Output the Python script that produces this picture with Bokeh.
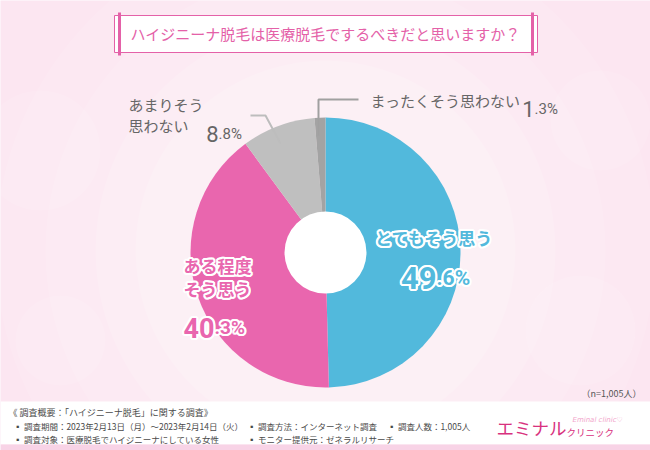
import math
from bokeh.plotting import figure
from bokeh.models import Range1d
from bokeh.core.properties import value
from bokeh.embed import file_html
from bokeh.resources import INLINE

# ---------------- data ----------------
title_text = "ハイジニーナ脱毛は医療脱毛でするべきだと思いますか？"
categories = ["とてもそう思う", "ある程度そう思う", "あまりそう思わない", "まったくそう思わない"]
label_lines = [["とてもそう思う"], ["ある程度", "そう思う"], ["あまりそう", "思わない"], ["まったくそう思わない"]]
values = [49.6, 40.3, 8.8, 1.3]
sample_note = "（n=1,005人）"
footer_head = "《 調査概要：「ハイジニーナ脱毛」に関する調査》"
footer_items = [
    "調査期間：2023年2月13日（月）～2023年2月14日（火）",
    "調査方法：インターネット調査",
    "調査人数：1,005人",
    "調査対象：医療脱毛でハイジニーナにしている女性",
    "モニター提供元：ゼネラルリサーチ",
]
brand_main = "エミナル"
brand_sub = "クリニック"
brand_en = "Eminal clinic♡"

# ---------------- styles ----------------
slice_colors = ["#52B9DC", "#E966AE", "#BFBFBF", "#A3A3A3"]
PINK = "#E461A8"
GRAY_TXT = "#666666"
JP = "Noto Sans CJK JP"

W, H = 650, 450
p = figure(width=W, height=H, output_backend="svg", toolbar_location=None,
           x_range=Range1d(0, W), y_range=Range1d(0, H),
           min_border=0, background_fill_color="#FCE6F1",
           border_fill_color="#FCE6F1", outline_line_color=None)
p.axis.visible = False
p.grid.visible = False


def Y(y):
    return H - y


# soft glow in background
for r, a in [(330, 0.10), (280, 0.12), (230, 0.14), (190, 0.16)]:
    p.circle(x=[325], y=[Y(250)], radius=r, radius_units="screen",
             fill_color="white", fill_alpha=a, line_color=None)
for cx, cy, r in [(40, 150, 60), (600, 120, 50), (580, 330, 55), (60, 340, 45)]:
    p.circle(x=[cx], y=[Y(cy)], radius=r, radius_units="screen",
             fill_color="white", fill_alpha=0.10, line_color=None)

# ---------------- title box ----------------
p.quad(left=[114], right=[537], top=[Y(15)], bottom=[Y(52)],
       fill_color="white", line_color=PINK, line_width=1)
p.segment(x0=[119, 532], y0=[Y(12), Y(12)], x1=[119, 532], y1=[Y(55), Y(55)],
          line_color=PINK, line_width=3)
p.text(x=[325], y=[Y(33)], text=[title_text], text_align="center",
       text_baseline="middle", text_color=PINK, text_font=value(JP),
       text_font_size="15px", text_font_style="normal")

# ---------------- pie ----------------
CX, CY, R = 325, 252, 135
total = sum(values)
starts, ends = [], []
acc = 0.0
for v in values:
    starts.append(math.pi / 2 - 2 * math.pi * acc / total)
    acc += v
    ends.append(math.pi / 2 - 2 * math.pi * acc / total)
p.wedge(x=[CX] * len(values), y=[Y(CY)] * len(values), radius=R,
        radius_units="screen", start_angle=starts, end_angle=ends,
        direction="clock", fill_color=slice_colors, line_color=None)
p.circle(x=[CX], y=[Y(CY)], radius=41, radius_units="screen",
         fill_color="white", line_color=None)

OFFS = [(dx, dy) for dx in (-2, -1, 0, 1, 2) for dy in (-2, -1, 0, 1, 2)
        if (dx, dy) != (0, 0) and abs(dx) + abs(dy) <= 3]


def otext(x, y, txt, size, color, align="center", baseline="middle", font=JP):
    for dx, dy in OFFS:
        p.text(x=[x], y=[Y(y)], text=[txt], x_offset=dx, y_offset=dy,
               text_color="white", text_align=align, text_baseline=baseline,
               text_font=value(font), text_font_size=size, text_font_style="bold")
    p.text(x=[x], y=[Y(y)], text=[txt], text_color=color, text_align=align,
           text_baseline=baseline, text_font=value(font), text_font_size=size,
           text_font_style="bold")


def split_pct(v):
    s = f"{v:.1f}"
    ip, dp = s.split(".")
    return ip, "." + dp + "%"


# big slice labels
otext(434, 237, label_lines[0][0], "17px", slice_colors[0])
ip, dp = split_pct(values[0])
otext(436, 277, ip, "31px", slice_colors[0], align="right", baseline="alphabetic", font="Roboto")
otext(436, 277, dp, "21px", slice_colors[0], align="left", baseline="alphabetic", font="Roboto")

otext(217, 265, label_lines[1][0], "17px", slice_colors[1])
otext(217, 288, label_lines[1][1], "17px", slice_colors[1])
ip, dp = split_pct(values[1])
otext(214, 327, ip, "27px", slice_colors[1], align="right", baseline="alphabetic", font="Roboto")
otext(214, 327, dp, "19px", slice_colors[1], align="left", baseline="alphabetic", font="Roboto")

# small slice labels with leader lines
p.line(x=[250, 265, 280], y=[Y(115), Y(115), Y(143)], line_color="#BDBDBD", line_width=2)
p.line(x=[358, 318, 318], y=[Y(99), Y(99), Y(135)], line_color="#A0A0A0", line_width=2)

for i, yy in enumerate([104, 125]):
    p.text(x=[128], y=[Y(yy)], text=[label_lines[2][i]], text_color=GRAY_TXT,
           text_align="left", text_baseline="middle", text_font=value(JP),
           text_font_size="15px")
ip, dp = split_pct(values[2])
p.text(x=[218], y=[Y(133)], text=[ip], text_color=GRAY_TXT, text_align="right",
       text_baseline="alphabetic", text_font=value("Roboto"), text_font_size="22px")
p.text(x=[218], y=[Y(133)], text=[dp], text_color=GRAY_TXT, text_align="left",
       text_baseline="alphabetic", text_font=value("Roboto"), text_font_size="15px")

p.text(x=[370], y=[Y(100)], text=[label_lines[3][0]], text_color=GRAY_TXT,
       text_align="left", text_baseline="middle", text_font=value(JP),
       text_font_size="15px")
ip, dp = split_pct(values[3])
p.text(x=[534], y=[Y(108)], text=[ip], text_color=GRAY_TXT, text_align="right",
       text_baseline="alphabetic", text_font=value("Roboto"), text_font_size="22px")
p.text(x=[534], y=[Y(108)], text=[dp], text_color=GRAY_TXT, text_align="left",
       text_baseline="alphabetic", text_font=value("Roboto"), text_font_size="15px")

# n note
p.text(x=[641], y=[Y(393)], text=[sample_note], text_color="#555555",
       text_align="right", text_baseline="middle", text_font=value(JP),
       text_font_size="9px")

# ---------------- footer ----------------
p.quad(left=[0], right=[W], top=[Y(401)], bottom=[Y(444)],
       fill_color="white", line_color=None)
p.quad(left=[0], right=[W], top=[Y(444)], bottom=[Y(450)],
       fill_color="#F8D3E6", line_color=None)
FT = "#4A4A4A"
p.text(x=[8], y=[Y(412)], text=[footer_head], text_color=FT, text_align="left",
       text_baseline="middle", text_font=value(JP), text_font_size="9px")
foot_pos = [(13, 425), (247, 425), (387, 425), (13, 438), (247, 438)]
for (fx, fy), t in zip(foot_pos, footer_items):
    p.text(x=[fx], y=[Y(fy)], text=["▪ " + t], text_color=FT, text_align="left",
           text_baseline="middle", text_font=value(JP), text_font_size="8.5px")

p.text(x=[496], y=[Y(427)], text=[brand_main], text_color="#D8317E",
       text_align="left", text_baseline="middle", text_font=value(JP),
       text_font_size="17.5px")
p.text(x=[566], y=[Y(431)], text=[brand_sub], text_color="#D8317E",
       text_align="left", text_baseline="middle", text_font=value(JP),
       text_font_size="9.5px")
p.text(x=[572], y=[Y(419)], text=[brand_en], text_color="#F2A6CB",
       text_align="left", text_baseline="middle", text_font=value("DejaVu Sans"),
       text_font_size="7px", text_font_style="italic")

open("out.html", "w").write(file_html(p, INLINE))
